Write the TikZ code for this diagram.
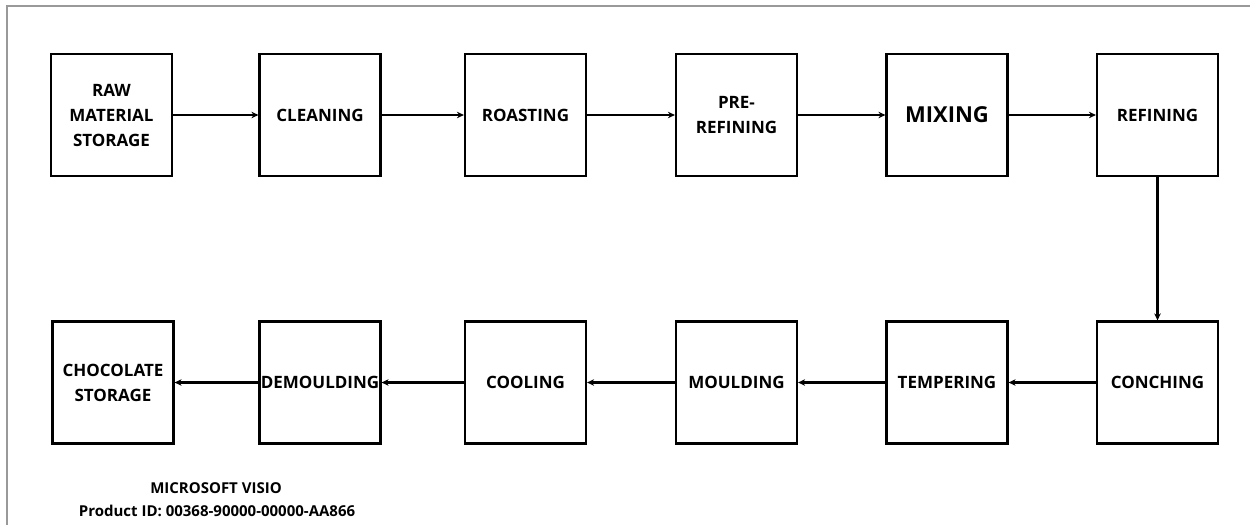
\documentclass[tikz,border=0pt]{standalone}
\usepackage{fontspec}
\setmainfont{Open Sans}
\usetikzlibrary{arrows.meta}
\begin{document}
\begin{tikzpicture}[x=1pt,y=-1pt,
  stagebox/.style={draw=black,line width=2.2pt,rectangle,minimum width=121pt,minimum height=122pt,
    inner sep=0pt,align=center,font=\fontsize{17}{25}\selectfont\bfseries},
  flow/.style={line width=2.2pt,-{Stealth[length=7pt,width=6.5pt]}},
  frameline/.style={draw=black!40,line width=1.2pt},
  note/.style={font=\fontsize{15}{18}\selectfont\bfseries,inner sep=0pt}]
\useasboundingbox (0,0) rectangle (1250,525);
\draw[frameline] (1250,6) -- (7,6) -- (7,525);
% top row
\node[stagebox] (raw) at (111.5,115) {RAW\\MATERIAL\\STORAGE};
\node[stagebox] (clean) at (320,115) {CLEANING};
\node[stagebox] (roast) at (525.5,115) {ROASTING};
\node[stagebox] (pre) at (736.5,115) {PRE-\\REFINING};
\node[stagebox,font=\fontsize{22}{26}\selectfont\bfseries] (mix) at (947,115) {MIXING};
\node[stagebox] (ref) at (1157.5,115) {REFINING};
% bottom row
\node[stagebox] (conch) at (1157.5,382.5) {CONCHING};
\node[stagebox] (temp) at (947,382.5) {TEMPERING};
\node[stagebox] (mould) at (736.5,382.5) {MOULDING};
\node[stagebox] (cool) at (525.5,382.5) {COOLING};
\node[stagebox] (demould) at (320,382.5) {DEMOULDING};
\node[stagebox] (choc) at (113,382.5) {CHOCOLATE\\STORAGE};
% connectors
\draw[flow] (raw) -- (clean);
\draw[flow] (clean) -- (roast);
\draw[flow] (roast) -- (pre);
\draw[flow] (pre) -- (mix);
\draw[flow] (mix) -- (ref);
\draw[flow] (ref) -- (conch);
\draw[flow] (conch) -- (temp);
\draw[flow] (temp) -- (mould);
\draw[flow] (mould) -- (cool);
\draw[flow] (cool) -- (demould);
\draw[flow] (demould) -- (choc);
% notes
\node[note] (visio) at (216,488) {MICROSOFT VISIO};
\node[note] (pid) at (217,511) {Product ID: 00368-90000-00000-AA866};
\end{tikzpicture}
\end{document}
